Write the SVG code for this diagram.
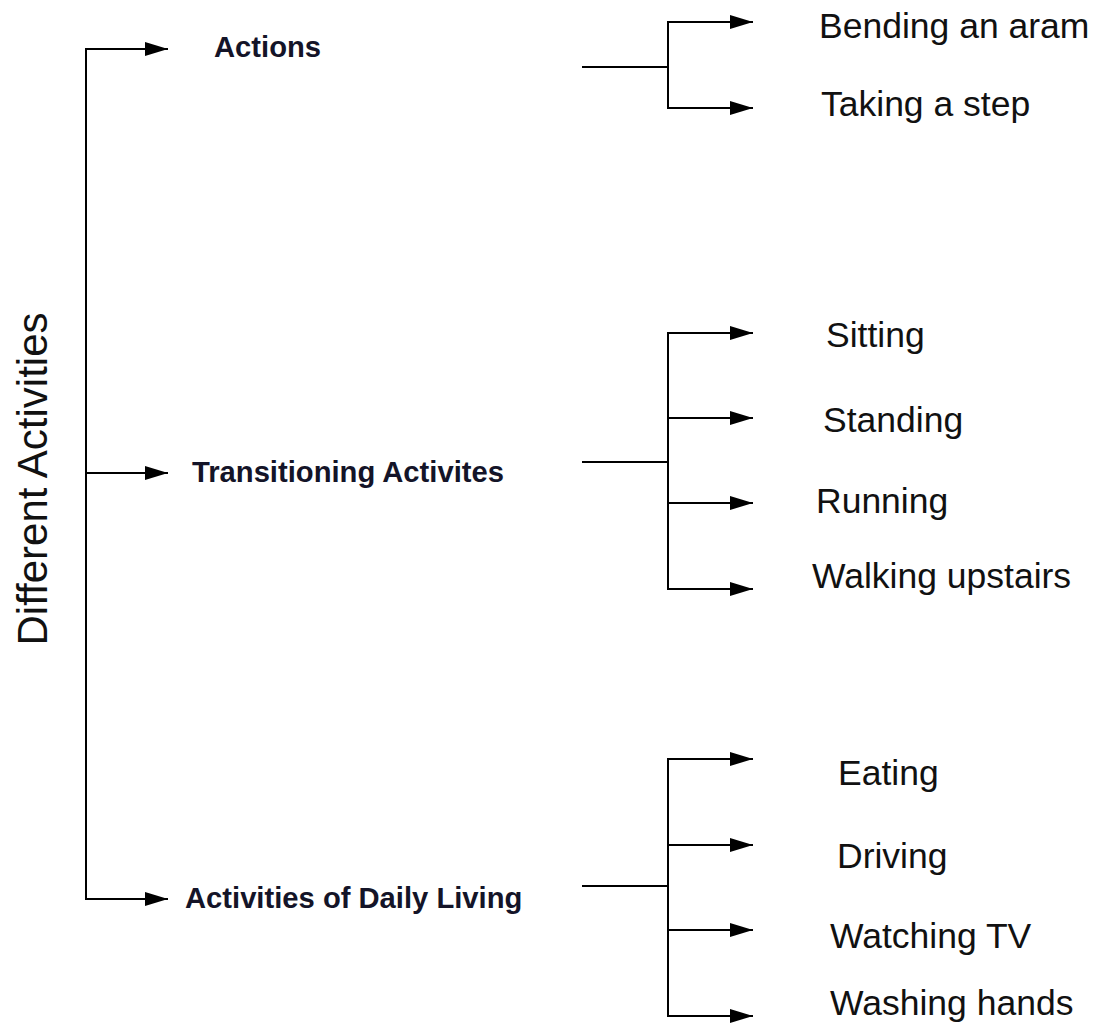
<svg xmlns="http://www.w3.org/2000/svg" width="1101" height="1026" viewBox="0 0 1101 1026">
<style>
.ln{stroke:#000;stroke-width:2;fill:none}
.ar{stroke:#000;stroke-width:2;fill:none;marker-end:url(#ah)}
.lbl{font-family:"Liberation Sans",Arial,sans-serif;font-size:35.5px;fill:#111}
.cat{font-family:"Liberation Sans",Arial,sans-serif;font-size:29.2px;font-weight:bold;fill:#141428}
.root{font-family:"Liberation Sans",Arial,sans-serif;font-size:42px;fill:#111}
</style>
<defs>
<marker id="ah" markerUnits="userSpaceOnUse" markerWidth="24" markerHeight="14" refX="23" refY="7" orient="auto">
<path d="M0,0 L23,7 L0,14 z" fill="#000"/>
</marker>
</defs>
<rect width="1101" height="1026" fill="#fff"/>
<g id="connectors">
<path class="ln" d="M86,48 L86,900"/>
<path class="ar" d="M86,49 L168,49"/>
<path class="ar" d="M86,473 L168,473"/>
<path class="ar" d="M86,899 L168,899"/>
<path class="ln" d="M582,67 L668,67 M668,21 L668,109"/>
<path class="ar" d="M667,22 L753,22"/>
<path class="ar" d="M667,108 L753,108"/>
<path class="ln" d="M582,462 L668,462 M668,332 L668,590"/>
<path class="ar" d="M667,333 L753,333"/>
<path class="ar" d="M667,418 L753,418"/>
<path class="ar" d="M667,503 L753,503"/>
<path class="ar" d="M667,589 L753,589"/>
<path class="ln" d="M582,886 L668,886 M668,758 L668,1017"/>
<path class="ar" d="M667,759 L753,759"/>
<path class="ar" d="M667,845 L753,845"/>
<path class="ar" d="M667,930 L753,930"/>
<path class="ar" d="M667,1016 L753,1016"/>
</g>
<g id="node-root"><text class="root" text-anchor="middle" transform="translate(47,479) rotate(-90)">Different Activities</text></g>
<g id="node-actions"><text class="cat" x="214" y="57">Actions</text></g>
<g id="node-transitioning"><text class="cat" x="192" y="482">Transitioning Activites</text></g>
<g id="node-adl"><text class="cat" x="185" y="908">Activities of Daily Living</text></g>
<g id="node-bending"><text class="lbl" x="819" y="38">Bending an aram</text></g>
<g id="node-step"><text class="lbl" x="821" y="116">Taking a step</text></g>
<g id="node-sitting"><text class="lbl" x="826" y="347">Sitting</text></g>
<g id="node-standing"><text class="lbl" x="823" y="432">Standing</text></g>
<g id="node-running"><text class="lbl" x="816" y="513">Running</text></g>
<g id="node-walking"><text class="lbl" x="812" y="588">Walking upstairs</text></g>
<g id="node-eating"><text class="lbl" x="838" y="785">Eating</text></g>
<g id="node-driving"><text class="lbl" x="837" y="868">Driving</text></g>
<g id="node-tv"><text class="lbl" x="830" y="948">Watching TV</text></g>
<g id="node-washing"><text class="lbl" x="830" y="1015">Washing hands</text></g>
</svg>
